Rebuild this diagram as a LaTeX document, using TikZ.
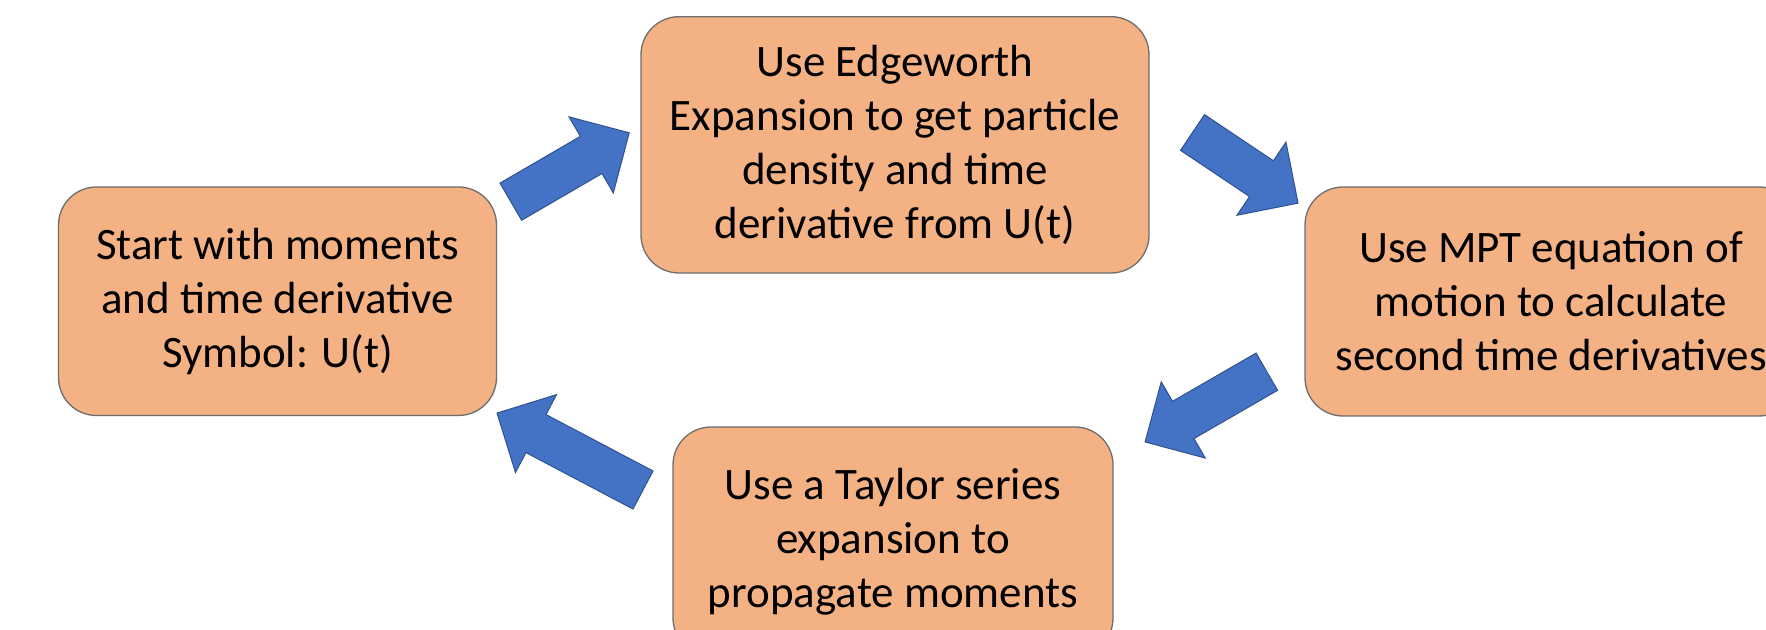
\documentclass[tikz,border=0pt]{standalone}
\usepackage{fontspec}
\setmainfont{Carlito}
\definecolor{boxfill}{HTML}{F4B183}
\definecolor{boxline}{HTML}{6E6E6E}
\definecolor{arrfill}{HTML}{4472C4}
\definecolor{arrline}{HTML}{2F528F}
\tikzset{
  stepbox/.style={draw=boxline, line width=1.3pt, fill=boxfill, rounded corners=38pt,
    align=center, inner sep=0pt, font=\fontsize{45}{54}\selectfont},
  arrowstyle/.style={draw=arrline, line width=1pt, fill=arrfill, line join=miter},
  pics/blockarrow/.style={code={
    \draw[arrowstyle] (0,-21.5) -- (#1-44,-21.5) -- (#1-44,-44) -- (#1,0)
      -- (#1-44,44) -- (#1-44,21.5) -- (0,21.5) -- cycle;
  }}
}
\begin{document}
\begin{tikzpicture}[x=1pt,y=1pt]
\useasboundingbox (0,0) rectangle (1766,629);
\clip (0,0) rectangle (1766,629);
\fill[white] (0,0) rectangle (1766,629);
% boxes
\node[stepbox, minimum width=438pt, minimum height=228.5pt] (L) at (277.5,327.75)
  {Start with moments\\and time derivative\\Symbol: U(t)};
\node[stepbox, minimum width=508pt, minimum height=256.3pt] (T) at (895,484.15)
  {Use Edgeworth\\Expansion to get particle\\density and time\\derivative from U(t)};
\node[stepbox, minimum width=492pt, minimum height=229pt] (R) at (1551,327.5)
  {Use MPT equation of\\motion to calculate\\second time derivatives};
\node[stepbox, minimum width=440pt, minimum height=229pt] (B) at (893,87.5)
  {Use a Taylor series\\expansion to\\propagate moments};
% block arrows
\pic[rotate=30.2] (a1) at (510.8,427.3) {blockarrow=137};
\pic[rotate=-33.8] (a2) at (1192.5,496.5) {blockarrow=127};
\pic[rotate=210] (a3) at (1266.8,257.3) {blockarrow=140.5};
\pic[rotate=152.2] (a4) at (643,139) {blockarrow=165};
\end{tikzpicture}
\end{document}
